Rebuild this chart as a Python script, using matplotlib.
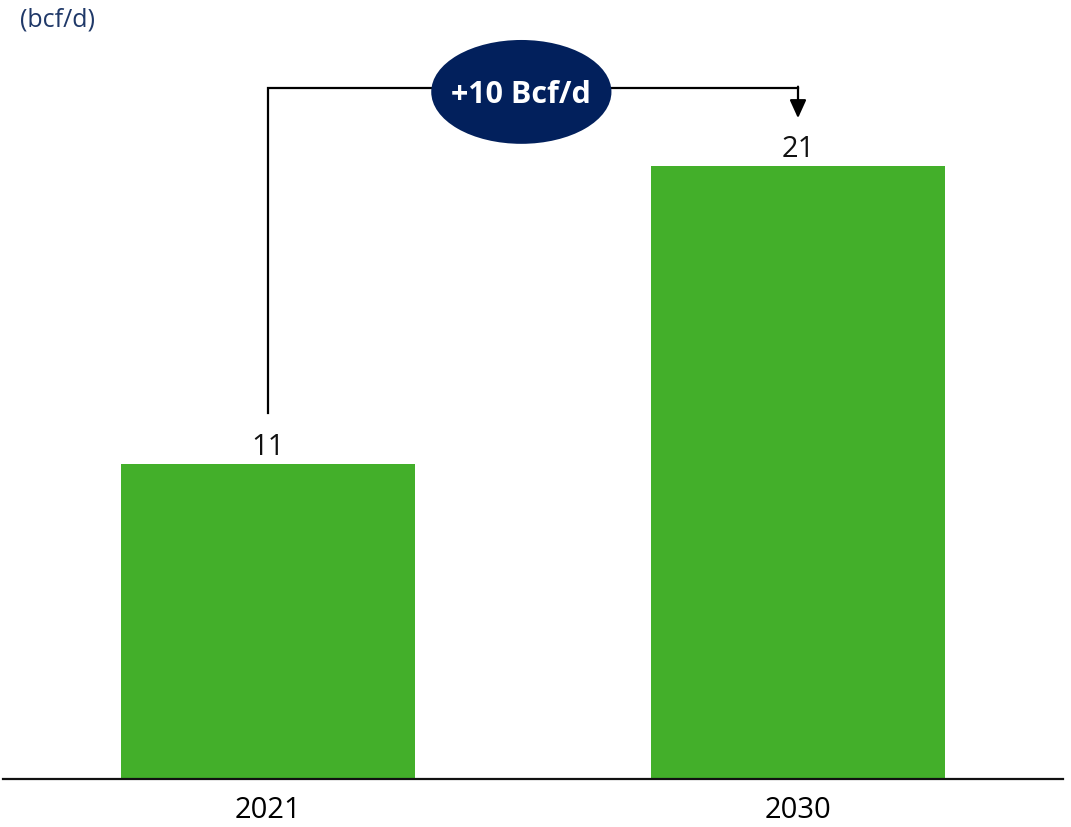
import matplotlib
matplotlib.use("Agg")
import matplotlib.pyplot as plt
from matplotlib.patches import Ellipse

categories = ["2021", "2030"]
values = [10.8, 21.0]
value_labels = ["11", "21"]
change_label = "+10 Bcf/d"
unit_label = "(bcf/d)"

plt.rcParams['font.family'] = ['Open Sans', 'DejaVu Sans']

fig = plt.figure(figsize=(10.71, 8.27), dpi=100)
ax = fig.add_axes([3/1071, 48/827, 1060/1071, 779/827])
x = [0, 1]
ax.bar(x, values, width=0.556, color="#43AF2A", zorder=2)
ax.set_xlim(-0.5, 1.5)
ax.set_ylim(0, 26.7)
for s in ["top", "right", "left"]:
    ax.spines[s].set_visible(False)
ax.spines["bottom"].set_linewidth(1.6)
ax.spines["bottom"].set_color("#111111")
ax.set_yticks([])
ax.set_xticks(x)
ax.set_xticklabels(categories, fontsize=21)
ax.tick_params(axis="x", length=0, pad=12)

for xi, v, lab in zip(x, values, value_labels):
    ax.text(xi, v + 0.08, lab, ha="center", va="bottom", fontsize=21, color="#111111")

# connector
y_start = values[0] + 1.75
y_top = values[1] + 2.7
y_tip = values[1] + 1.65
ax.plot([0, 0, 1], [y_start, y_top, y_top], color="black", lw=1.6, solid_joinstyle="miter", zorder=3)
ax.annotate("", xy=(1, y_tip), xytext=(1, y_top + 0.03),
            arrowprops=dict(arrowstyle="-|>,head_length=1.1,head_width=0.5", color="black", lw=1.6, shrinkA=0, shrinkB=0), zorder=3)

ell = Ellipse((0.478, y_top - 0.15), 0.34, 3.56, facecolor="#02205C", edgecolor="none", zorder=4)
ax.add_patch(ell)
ax.text(0.478, y_top - 0.25, change_label, ha="center", va="center", fontsize=22,
        fontweight="bold", color="white", zorder=5)

fig.text(20/1071, 1 - 20/827, unit_label, ha="left", va="center", fontsize=18, color="#1F3868")

fig.savefig("out.png", dpi=100)
